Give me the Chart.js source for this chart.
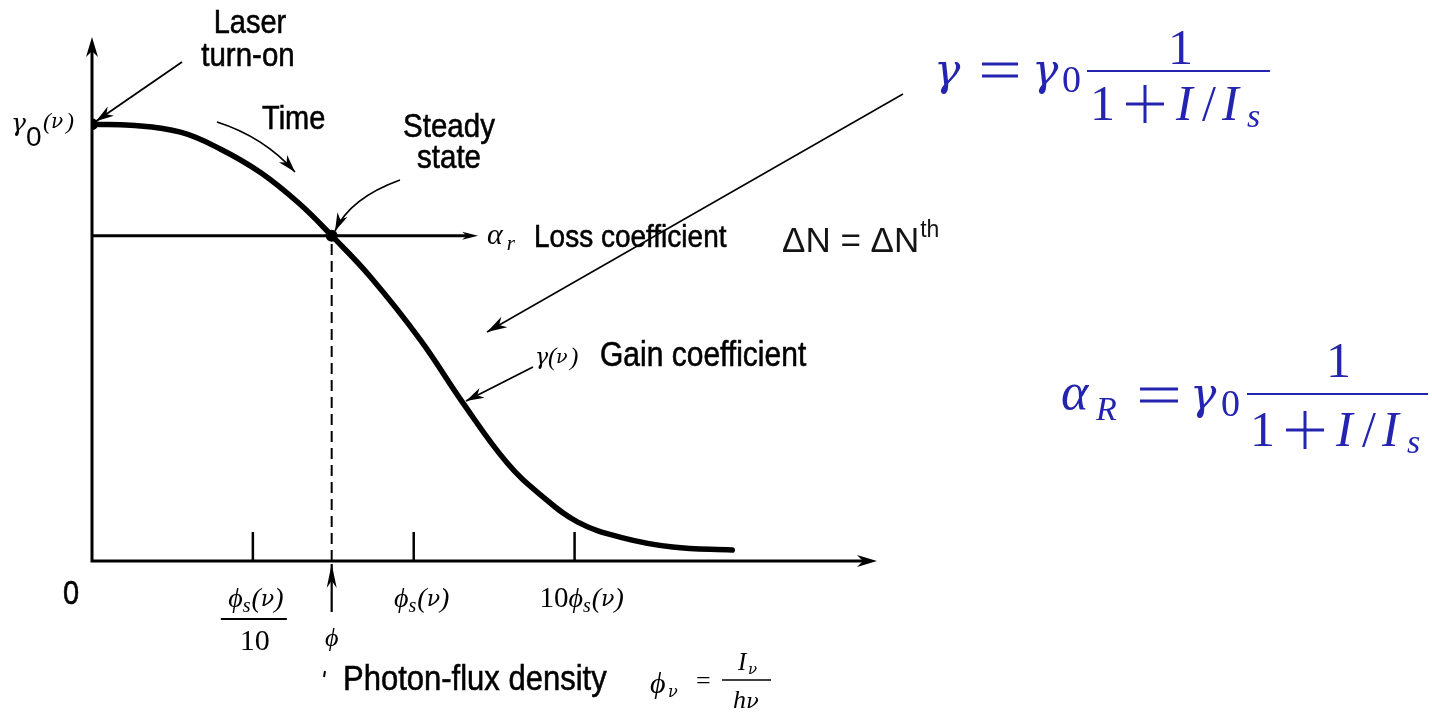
<!DOCTYPE html>
<html>
<head>
<meta charset="utf-8">
<title>Gain saturation</title>
<script src="https://cdn.jsdelivr.net/npm/chart.js@4.4.1/dist/chart.umd.min.js"></script>
<style>
  html, body { margin: 0; padding: 0; background: #ffffff; }
  #wrap { width: 1432px; height: 717px; position: relative; }
</style>
</head>
<body>
<div id="wrap"><canvas id="c" width="1432" height="717"></canvas></div>
<script>
// Photon-flux density on a decade axis: log10(phi / phi_s)
const fluxDecades = [-2.0, -1.76, -1.45, -1.2, -0.95, -0.71, -0.51, -0.27, 0.04, 0.31, 0.58, 0.79, 1.02, 1.3, 1.61, 1.98];
// Gain coefficient gamma(nu), in units of gamma_0(nu)
const gainValues = [1.0, 0.998, 0.982, 0.943, 0.889, 0.818, 0.745, 0.651, 0.507, 0.36, 0.225, 0.151, 0.089, 0.053, 0.032, 0.025];
// Loss coefficient alpha_r and where the loss line ends
const lossLevel = 0.745;
const lossLineEnd = 0.4;
// Operating (steady-state) photon flux
const steadyFlux = -0.51;
// Decade tick positions: phi_s/10, phi_s, 10 phi_s
const tickDecades = [-1, 0, 1];
const axisMin = -2, axisMax = 2.88, gainMax = 1.2;

const BLUE = '#2424b0';
const SANS = '"Liberation Sans", Arial, sans-serif';
const SERIF = '"Liberation Serif", "Times New Roman", serif';
const GREEK = '"DejaVu Serif", serif';

function arrowHead(ctx, x0, y0, x1, y1, len, half) {
  const a = Math.atan2(y1 - y0, x1 - x0);
  const c = Math.cos(a), s = Math.sin(a);
  ctx.beginPath();
  ctx.moveTo(x1, y1);
  ctx.lineTo(x1 - len * c + half * s, y1 - len * s - half * c);
  ctx.lineTo(x1 - len * c * 0.7, y1 - len * s * 0.7);
  ctx.lineTo(x1 - len * c - half * s, y1 - len * s + half * c);
  ctx.closePath();
  ctx.fill();
}

function straightArrow(ctx, x0, y0, x1, y1, w, len, half) {
  ctx.lineWidth = w;
  ctx.beginPath(); ctx.moveTo(x0, y0); ctx.lineTo(x1, y1); ctx.stroke();
  arrowHead(ctx, x0, y0, x1, y1, len, half);
}

function curvedArrow(ctx, x0, y0, cx, cy, x1, y1, w, len, half) {
  ctx.lineWidth = w;
  ctx.beginPath(); ctx.moveTo(x0, y0); ctx.quadraticCurveTo(cx, cy, x1, y1); ctx.stroke();
  arrowHead(ctx, cx, cy, x1, y1, len, half);
}

// Tall, slightly heavy sans label (vertically stretched)
function label(ctx, text, x, y, size, align, sy) {
  ctx.save();
  ctx.font = size + 'px ' + SANS;
  ctx.textAlign = align || 'left';
  ctx.translate(x, y);
  ctx.scale(1, sy || 1.15);
  ctx.fillText(text, 0, 0);
  ctx.lineWidth = 0.5;
  ctx.strokeText(text, 0, 0);
  ctx.restore();
}

// Draw a sequence of text runs {t, f, dy, dx} starting at x (or centred)
function runs(ctx, x, y, parts, align) {
  let total = 0;
  parts.forEach(p => { ctx.font = p.f; total += ctx.measureText(p.t).width + (p.dx || 0); });
  let cx = align === 'center' ? x - total / 2 : (align === 'right' ? x - total : x);
  ctx.textAlign = 'left';
  parts.forEach(p => {
    ctx.font = p.f;
    cx += (p.dx || 0);
    ctx.fillText(p.t, cx, y + (p.dy || 0));
    cx += ctx.measureText(p.t).width;
  });
  return total;
}

// Single glyph placed at a given left edge
function glyph(ctx, t, f, x, y) {
  ctx.font = f; ctx.textAlign = 'left'; ctx.fillText(t, x, y);
}

const decorations = {
  id: 'decorations',
  beforeDatasetsDraw(chart) {
    const ctx = chart.ctx;
    const xs = chart.scales.x, ys = chart.scales.y;
    const x0 = xs.getPixelForValue(axisMin), y0 = ys.getPixelForValue(0);
    const xEnd = xs.getPixelForValue(axisMax), yTop = ys.getPixelForValue(gainMax);
    ctx.save();
    ctx.strokeStyle = '#000'; ctx.fillStyle = '#000';
    ctx.lineWidth = 3;
    ctx.beginPath(); ctx.moveTo(x0, yTop + 12); ctx.lineTo(x0, y0); ctx.lineTo(xEnd - 12, y0); ctx.stroke();
    arrowHead(ctx, x0, y0, x0, yTop, 20, 6);
    arrowHead(ctx, x0, y0, xEnd, y0, 20, 6);
    ctx.lineWidth = 2.5;
    tickDecades.forEach(d => {
      const px = xs.getPixelForValue(d);
      ctx.beginPath(); ctx.moveTo(px, y0); ctx.lineTo(px, y0 - 29); ctx.stroke();
    });
    ctx.restore();
  },
  afterDatasetsDraw(chart) {
    const ctx = chart.ctx;
    const xs = chart.scales.x, ys = chart.scales.y;
    const x0 = xs.getPixelForValue(axisMin), y0 = ys.getPixelForValue(0);
    const yLoss = ys.getPixelForValue(lossLevel);
    const xLossEnd = xs.getPixelForValue(lossLineEnd);
    const xSteady = xs.getPixelForValue(steadyFlux);
    const yGain0 = ys.getPixelForValue(gainValues[0]);
    ctx.save();
    ctx.fillStyle = '#000'; ctx.strokeStyle = '#000';
    ctx.textBaseline = 'alphabetic';

    arrowHead(ctx, x0, yLoss, xLossEnd, yLoss, 16, 4);

    // y-axis label gamma_0(nu)
    glyph(ctx, 'γ', 'italic 25px ' + GREEK, 11, yGain0 + 7);
    glyph(ctx, '0', '28px ' + SANS, 26, yGain0 + 22);
    glyph(ctx, '(', 'italic 24px ' + SERIF, 43, yGain0 + 5);
    glyph(ctx, 'ν', 'italic 20px ' + GREEK, 51, yGain0 + 4);
    glyph(ctx, ')', 'italic 24px ' + SERIF, 66, yGain0 + 5);

    // Laser turn-on
    label(ctx, 'Laser', 250, 33, 29, 'center');
    label(ctx, 'turn-on', 248, 66, 29.5, 'center');
    straightArrow(ctx, 182, 62, x0 + 4, yGain0 - 3, 1.8, 18, 5.5);

    // Time
    label(ctx, 'Time', 262, 129, 29);
    curvedArrow(ctx, 217, 122, 264, 137, 295, 172, 1.8, 18, 5.5);

    // Steady state
    label(ctx, 'Steady', 449, 137, 29.5, 'center');
    label(ctx, 'state', 449, 168, 29.5, 'center');
    curvedArrow(ctx, 400, 180, 350, 198, 335, 231, 1.8, 18, 5.5);

    // Loss coefficient
    runs(ctx, 487, yLoss + 8, [{ t: 'α', f: 'italic 30px ' + SERIF }, { t: 'r', f: 'italic 21px ' + SERIF, dy: 6, dx: 4 }]);
    label(ctx, 'Loss coefficient', 534, yLoss + 11, 28);

    // Delta N = Delta N^th
    ctx.fillStyle = '#141414';
    runs(ctx, 782, 252, [
      { t: 'ΔN = ΔN', f: '35px ' + SANS },
      { t: 'th', f: '23px ' + SANS, dy: -15, dx: 1 }
    ]);
    ctx.fillStyle = '#000';

    // Gain coefficient
    glyph(ctx, 'γ', 'italic 22px ' + GREEK, 535, 364);
    glyph(ctx, '(', 'italic 25px ' + SERIF, 548, 365);
    glyph(ctx, 'ν', 'italic 19px ' + GREEK, 556, 363);
    glyph(ctx, ')', 'italic 25px ' + SERIF, 570, 365);
    label(ctx, 'Gain coefficient', 600, 366, 30);
    straightArrow(ctx, 533, 367, 466, 401, 1.8, 18, 5.5);

    // long pointer from the formula
    straightArrow(ctx, 903, 94, 487, 332, 1.5, 20, 6);

    // Steady-state photon flux marker
    straightArrow(ctx, xSteady, 612, xSteady, y0 + 3, 2.2, 24, 5);
    runs(ctx, xSteady, 646, [{ t: 'ϕ', f: 'italic 26px ' + SERIF }], 'center');

    // x-axis labels
    label(ctx, '0', 71, 604, 29, 'center');
    const phiS = (x, y, pre) => runs(ctx, x, y, [
      ...(pre ? [{ t: pre, f: '29px ' + SERIF }] : []),
      { t: 'ϕ', f: 'italic 28px ' + SERIF },
      { t: 's', f: 'italic 20px ' + SERIF, dy: 5 },
      { t: '(', f: 'italic 28px ' + SERIF, dx: 1 },
      { t: 'ν', f: 'italic 22px ' + GREEK, dy: -1 },
      { t: ')', f: 'italic 28px ' + SERIF }
    ], 'center');
    const xm = xs.getPixelForValue(tickDecades[0]);
    phiS(xm + 3, 607);
    ctx.lineWidth = 2; ctx.beginPath(); ctx.moveTo(xm - 32, 619); ctx.lineTo(xm + 34, 619); ctx.stroke();
    ctx.font = '30px ' + SERIF; ctx.textAlign = 'center';
    ctx.fillText('10', xm + 2, 650);
    phiS(xs.getPixelForValue(tickDecades[1]) + 8, 607);
    phiS(xs.getPixelForValue(tickDecades[2]) + 7, 607, '10');

    // axis title
    ctx.lineWidth = 2; ctx.beginPath(); ctx.moveTo(325, 671); ctx.lineTo(324, 677); ctx.stroke();
    label(ctx, 'Photon-flux density', 343, 690, 31);
    glyph(ctx, 'ϕ', 'italic 30px ' + SERIF, 650, 693);
    glyph(ctx, 'ν', 'italic 16px ' + GREEK, 668, 697);
    glyph(ctx, '=', '26px ' + SERIF, 696, 689);
    glyph(ctx, 'I', 'italic 25px ' + SERIF, 738, 670);
    glyph(ctx, 'ν', 'italic 15px ' + GREEK, 748, 674);
    ctx.lineWidth = 1.5; ctx.beginPath(); ctx.moveTo(722, 680); ctx.lineTo(771, 680); ctx.stroke();
    glyph(ctx, 'h', 'italic 26px ' + SERIF, 733, 708);
    glyph(ctx, 'ν', 'italic 21px ' + GREEK, 746, 708);

    // Saturated gain formulas
    ctx.fillStyle = BLUE; ctx.strokeStyle = BLUE;
    const eq = (xL, xR, yc) => {
      ctx.lineWidth = 3;
      ctx.beginPath();
      ctx.moveTo(xL, yc - 6); ctx.lineTo(xR, yc - 6);
      ctx.moveTo(xL, yc + 6); ctx.lineTo(xR, yc + 6);
      ctx.stroke();
    };
    const plus = (xc, yc, h) => {
      ctx.lineWidth = 3;
      ctx.beginPath();
      ctx.moveTo(xc - h, yc); ctx.lineTo(xc + h, yc);
      ctx.moveTo(xc, yc - h); ctx.lineTo(xc, yc + h);
      ctx.stroke();
    };
    const denom = (x, base) => {
      glyph(ctx, '1', '50px ' + SERIF, x, base);
      plus(x + 55, base - 16, 19);
      glyph(ctx, 'I', 'italic 50px ' + SERIF, x + 86, base);
      glyph(ctx, '/', '50px ' + SERIF, x + 112, base);
      glyph(ctx, 'I', 'italic 50px ' + SERIF, x + 132, base);
      glyph(ctx, 's', 'italic 34px ' + SERIF, x + 157, base + 7);
    };
    // gamma = gamma_0 / (1 + I/I_s)
    glyph(ctx, 'γ', 'italic 44px ' + GREEK, 934, 85);
    eq(982, 1018, 70);
    glyph(ctx, 'γ', 'italic 44px ' + GREEK, 1032, 85);
    glyph(ctx, '0', '38px ' + SERIF, 1062, 92);
    ctx.lineWidth = 2.2; ctx.beginPath(); ctx.moveTo(1087, 71); ctx.lineTo(1270, 71); ctx.stroke();
    glyph(ctx, '1', '50px ' + SERIF, 1168, 64);
    denom(1090, 120);
    // alpha_R = gamma_0 / (1 + I/I_s)
    glyph(ctx, 'α', 'italic 52px ' + SERIF, 1061, 409);
    glyph(ctx, 'R', 'italic 34px ' + SERIF, 1096, 420);
    eq(1140, 1178, 395);
    glyph(ctx, 'γ', 'italic 44px ' + GREEK, 1190, 409);
    glyph(ctx, '0', '38px ' + SERIF, 1221, 416);
    ctx.lineWidth = 2.2; ctx.beginPath(); ctx.moveTo(1247, 394); ctx.lineTo(1428, 394); ctx.stroke();
    glyph(ctx, '1', '50px ' + SERIF, 1326, 377);
    denom(1250, 446);
    ctx.restore();
  }
};

new Chart(document.getElementById('c'), {
  type: 'line',
  data: {
    datasets: [
      {
        label: 'Gain coefficient',
        data: fluxDecades.map((x, i) => ({ x, y: gainValues[i] })),
        borderColor: '#000', borderWidth: 5.5, pointRadius: 0,
        tension: 0.4, borderCapStyle: 'round'
      },
      {
        label: 'Loss coefficient',
        data: [{ x: axisMin, y: lossLevel }, { x: lossLineEnd - 0.05, y: lossLevel }],
        borderColor: '#000', borderWidth: 3, pointRadius: 0
      },
      {
        label: 'Steady-state flux',
        data: [{ x: steadyFlux, y: 0 }, { x: steadyFlux, y: lossLevel }],
        borderColor: '#000', borderWidth: 2, borderDash: [11, 6], pointRadius: 0
      },
      {
        label: 'Marked points',
        data: [{ x: fluxDecades[0], y: gainValues[0] }, { x: steadyFlux, y: lossLevel }],
        showLine: false, pointRadius: 6, pointBackgroundColor: '#000', pointBorderWidth: 0
      }
    ]
  },
  options: {
    responsive: false, animation: false,
    layout: { padding: { left: 92, right: 555, top: 37, bottom: 156 } },
    plugins: { legend: { display: false }, tooltip: { enabled: false } },
    scales: {
      x: { type: 'linear', min: axisMin, max: axisMax, display: false },
      y: { type: 'linear', min: 0, max: gainMax, display: false }
    }
  },
  plugins: [decorations]
});
</script>
</body>
</html>
